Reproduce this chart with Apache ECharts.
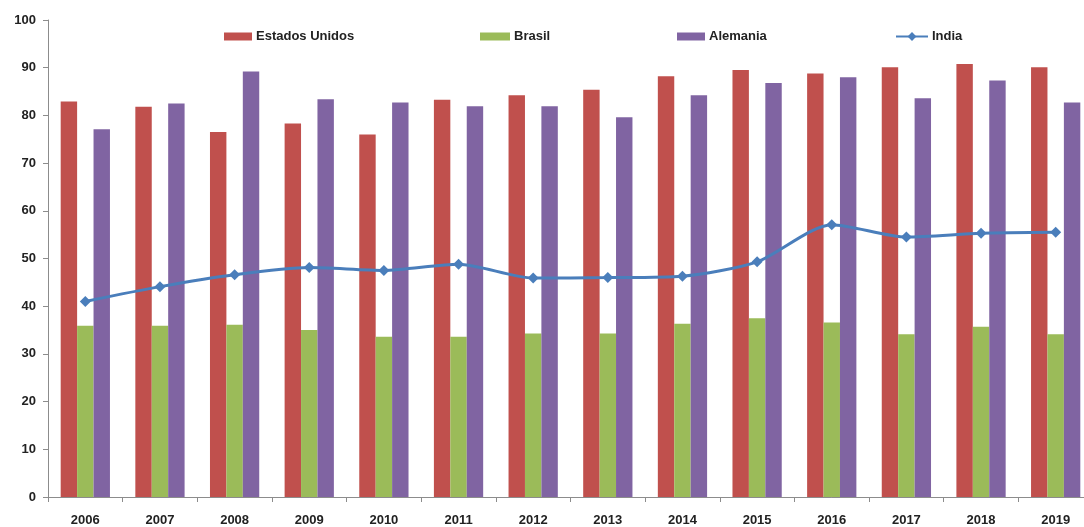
<!DOCTYPE html>
<html>
<head>
<meta charset="utf-8">
<script src="https://cdn.jsdelivr.net/npm/echarts@6/dist/echarts.min.js"></script>
<style>
html,body{margin:0;padding:0;background:#fff;overflow:hidden;width:1084px;height:527px;}
#chart{width:1093px;height:527px;}
</style>
</head>
<body>
<div id="chart"></div>
<script>
const years = ['2006','2007','2008','2009','2010','2011','2012','2013','2014','2015','2016','2017','2018','2019'];
const estadosUnidos = [82.9, 81.8, 76.5, 78.3, 76.0, 83.3, 84.2, 85.4, 88.2, 89.5, 88.8, 90.1, 90.8, 90.1];
const brasil = [35.9, 35.9, 36.1, 35.0, 33.6, 33.6, 34.3, 34.3, 36.3, 37.5, 36.6, 34.1, 35.7, 34.1];
const alemania = [77.1, 82.5, 89.2, 83.4, 82.7, 81.9, 81.9, 79.6, 84.2, 86.8, 88.0, 83.6, 87.3, 82.7];
const india = [41.0, 44.1, 46.6, 48.1, 47.5, 48.8, 45.9, 46.0, 46.3, 49.3, 57.1, 54.5, 55.3, 55.5];

const font = '"Liberation Sans", Arial, sans-serif';
const txt = {fontFamily: font, fontWeight: 'bold', fontSize: 13, color: '#222222'};

function legendAt(name, left, w, h, icon) {
  const l = {
    data: [icon ? {name: name, icon: icon} : name], left: left, top: 30, padding: 0,
    itemWidth: w, itemHeight: h, itemGap: 0,
    textStyle: Object.assign({}, txt, {padding: [0, 0, 0, -1]})
  };
  return l;
}

const chart = echarts.init(document.getElementById('chart'), null, {renderer: 'canvas'});
chart.setOption({
  animation: false,
  backgroundColor: '#fff',
  legend: [
    legendAt('Estados Unidos', 224, 28, 8, 'rect'),
    legendAt('Brasil', 480, 30, 8, 'rect'),
    legendAt('Alemania', 677, 28, 8, 'rect'),
    legendAt('India', 895, 32, 11)
  ],
  grid: {left: 48, right: 0, top: 20, bottom: 30, containLabel: false},
  xAxis: {
    type: 'category',
    data: years,
    axisLine: {lineStyle: {color: '#8c8c8c', width: 1}},
    axisTick: {show: true, length: 5, lineStyle: {color: '#8c8c8c'}},
    axisLabel: Object.assign({}, txt, {margin: 17})
  },
  yAxis: {
    type: 'value', min: 0, max: 100, interval: 10,
    splitLine: {show: false},
    axisLine: {show: true, lineStyle: {color: '#8c8c8c', width: 1}},
    axisTick: {show: true, length: 5, lineStyle: {color: '#8c8c8c'}},
    axisLabel: Object.assign({}, txt, {margin: 12})
  },
  series: [
    {name: 'Estados Unidos', type: 'bar', data: estadosUnidos, barGap: '0%', barCategoryGap: '34%',
     itemStyle: {color: '#C0504D'}},
    {name: 'Brasil', type: 'bar', data: brasil, barGap: '0%', barCategoryGap: '34%',
     itemStyle: {color: '#9BBB59'}},
    {name: 'Alemania', type: 'bar', data: alemania, barGap: '0%', barCategoryGap: '34%',
     itemStyle: {color: '#8064A2'}},
    {name: 'India', type: 'line', data: india, smooth: 0.25,
     symbol: 'diamond', symbolSize: 11,
     lineStyle: {color: '#4A7EBB', width: 3},
     itemStyle: {color: '#4A7EBB'}, z: 5}
  ]
});
</script>
</body>
</html>
